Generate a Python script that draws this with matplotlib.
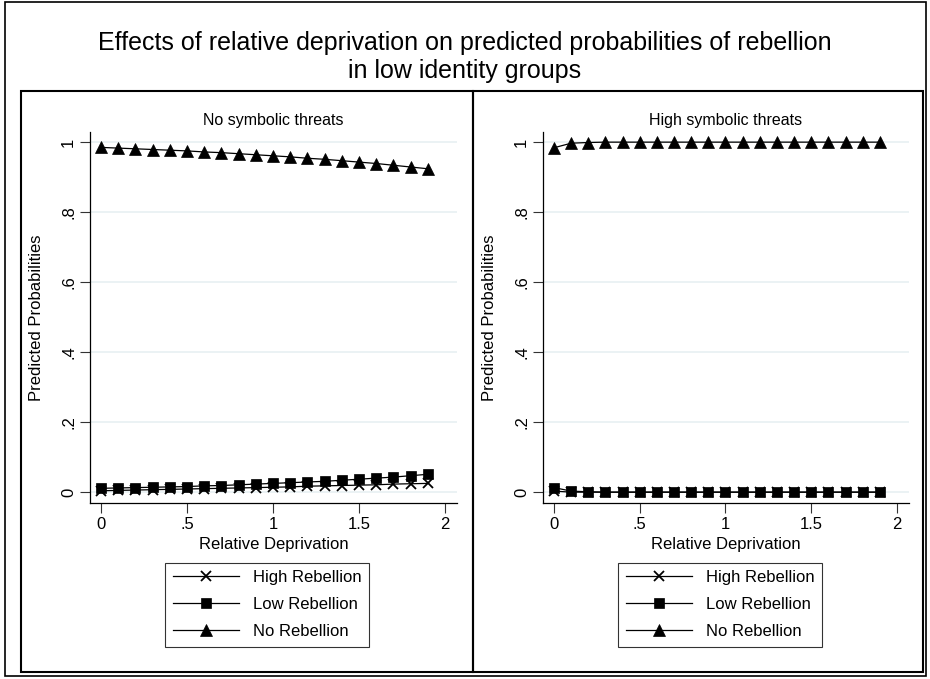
#!/usr/bin/env python3

#~~~~~~~~~~~~~~~~~~~~~~~~~~~~~~~~~~~~~~~~~~~~~~~~~~~~~~~~~~~~~~~~~~~~~~~~~~~~~~~
# Predicted probabilities of rebellion vs relative deprivation (Stata look)
#~~~~~~~~~~~~~~~~~~~~~~~~~~~~~~~~~~~~~~~~~~~~~~~~~~~~~~~~~~~~~~~~~~~~~~~~~~~~~~~

import numpy as np
import matplotlib
matplotlib.use('Agg')
import matplotlib.pyplot as plt
from matplotlib.patches import Rectangle

plt.rcParams['font.family'] = ['Liberation Sans', 'DejaVu Sans']

#-------------------------------------------------------------------------------
# Data
#-------------------------------------------------------------------------------
rel_dep = [0.0, 0.1, 0.2, 0.3, 0.4, 0.5, 0.6, 0.7, 0.8, 0.9,
           1.0, 1.1, 1.2, 1.3, 1.4, 1.5, 1.6, 1.7, 1.8, 1.9]

# No symbolic threats
no_thr_high = [0.004, 0.005, 0.006, 0.007, 0.008, 0.009, 0.010, 0.011, 0.012, 0.013,
               0.014, 0.015, 0.017, 0.018, 0.019, 0.020, 0.021, 0.023, 0.024, 0.025]
no_thr_low  = [0.011, 0.012, 0.013, 0.014, 0.015, 0.016, 0.018, 0.019, 0.021, 0.023,
               0.025, 0.027, 0.029, 0.031, 0.034, 0.037, 0.040, 0.043, 0.047, 0.051]
no_thr_none = [0.985, 0.983, 0.981, 0.979, 0.977, 0.975, 0.972, 0.970, 0.967, 0.964,
               0.961, 0.958, 0.954, 0.951, 0.947, 0.943, 0.939, 0.934, 0.929, 0.924]

# High symbolic threats
hi_thr_high = [0.003, 0.000, 0.000, 0.000, 0.000, 0.000, 0.000, 0.000, 0.000, 0.000,
               0.000, 0.000, 0.000, 0.000, 0.000, 0.000, 0.000, 0.000, 0.000, 0.000]
hi_thr_low  = [0.013, 0.003, 0.001, 0.000, 0.000, 0.000, 0.000, 0.000, 0.000, 0.000,
               0.000, 0.000, 0.000, 0.000, 0.000, 0.000, 0.000, 0.000, 0.000, 0.000]
hi_thr_none = [0.984, 0.997, 0.999, 1.000, 1.000, 1.000, 1.000, 1.000, 1.000, 1.000,
               1.000, 1.000, 1.000, 1.000, 1.000, 1.000, 1.000, 1.000, 1.000, 1.000]

series_labels = ['High Rebellion', 'Low Rebellion', 'No Rebellion']
panel_titles  = ['No symbolic threats', 'High symbolic threats']

x_ticks      = [0, 0.5, 1, 1.5, 2]
x_ticklabels = ['0', '.5', '1', '1.5', '2']
y_ticks      = [0, 0.2, 0.4, 0.6, 0.8, 1.0]
y_ticklabels = ['0', '.2', '.4', '.6', '.8', '1']

W, H = 930, 679
GRID_COL = '#e8f0f2'
FS = 12


def px_box(left, top, right, bottom):
    # convert pixel box (image coords) into figure fraction rect
    return [left / W, 1 - bottom / H, (right - left) / W, (bottom - top) / H]


def draw_panel(fig, rect, title, high, low, none, legend_box):
    ax = fig.add_axes(rect)

    markers = ['x', 's', '^']
    sizes   = [6.5, 7.5, 9]
    for vals, mk, ms, lab in zip([high, low, none], markers, sizes, series_labels):
        ax.plot(rel_dep, vals, color='k', lw=0.9, marker=mk, ms=ms,
                mew=1.3 if mk == 'x' else 0.5, label=lab)

    ax.set_xlim(-0.064, 2.07)
    ax.set_ylim(-0.031, 1.029)

    ax.set_xticks(x_ticks)
    ax.set_xticklabels(x_ticklabels, fontsize=FS)
    ax.set_yticks(y_ticks)
    ax.set_yticklabels(y_ticklabels, fontsize=FS, rotation=90, va='center')
    ax.tick_params(length=7, width=0.8, color='#333333', pad=3)

    ax.grid(axis='y', color=GRID_COL, lw=1.2)
    ax.set_axisbelow(True)

    for side in ['top', 'right']:
        ax.spines[side].set_visible(False)
    for side in ['left', 'bottom']:
        ax.spines[side].set_linewidth(0.9)

    ax.set_xlabel('Relative Deprivation', fontsize=FS, labelpad=4)
    ax.set_ylabel('Predicted Probabilities', fontsize=FS, labelpad=12)
    ax.set_title(title, fontsize=11.5, pad=5)

    leg = ax.legend(loc='center', bbox_to_anchor=legend_box,
                    bbox_transform=fig.transFigure, fontsize=FS,
                    frameon=True, fancybox=False, edgecolor='k',
                    handlelength=4.0, handletextpad=0.8, labelspacing=0.72,
                    borderpad=0.45, borderaxespad=0)
    leg.get_frame().set_linewidth(0.8)
    return ax


fig = plt.figure(figsize=(W / 100, H / 100), dpi=100)

#-------------------------------------------------------------------------------
# Outer border and the two panel boxes
#-------------------------------------------------------------------------------
for (l, t, r, b), lw in [((5, 2, 926, 676), 1.2),
                         ((21, 91, 473, 672), 1.5),
                         ((473, 91, 923, 672), 1.5)]:
    rb = px_box(l, t, r, b)
    fig.add_artist(Rectangle((rb[0], rb[1]), rb[2], rb[3], fill=False,
                             ec='k', lw=lw, transform=fig.transFigure))

fig.text(0.5, 1 - 57 / H,
         'Effects of relative deprivation on predicted probabilities of rebellion\n'
         'in low identity groups',
         ha='center', va='center', fontsize=18, linespacing=1.22)

draw_panel(fig, px_box(90, 132, 457, 503), panel_titles[0],
           no_thr_high, no_thr_low, no_thr_none,
           (267 / W, 1 - 604.5 / H))
draw_panel(fig, px_box(543, 132, 909, 503), panel_titles[1],
           hi_thr_high, hi_thr_low, hi_thr_none,
           (720 / W, 1 - 604.5 / H))

fig.savefig('out.png', dpi=100, facecolor='w')
plt.close()
